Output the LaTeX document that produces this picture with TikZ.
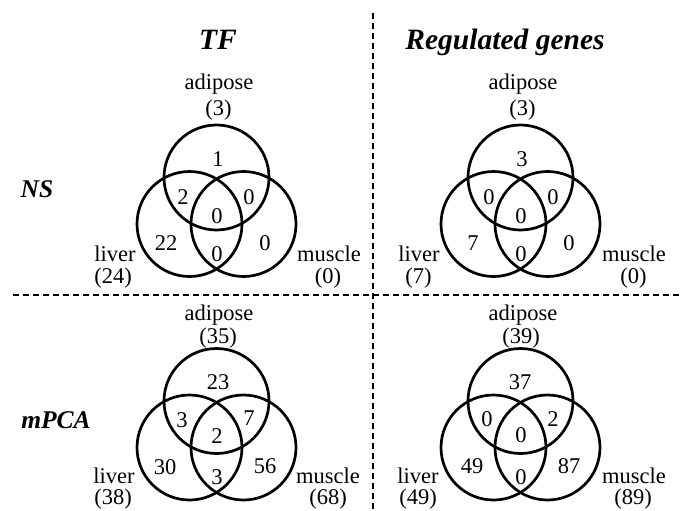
\documentclass[tikz,border=0pt]{standalone}
\usepackage{fontspec}
\setmainfont{Liberation Serif}
\begin{document}
\begin{tikzpicture}[x=1pt,y=-1pt,
  vc/.style={circle, draw, line width=2.7pt, minimum size=105pt, inner sep=0pt},
  num/.style={font=\fontsize{22.5}{26}\selectfont, inner sep=0pt},
  lbl/.style={font=\fontsize{22.5}{26}\selectfont, inner sep=0pt, anchor=base},
  ttl/.style={font=\fontsize{29.5}{34}\selectfont\bfseries\itshape, inner sep=0pt, anchor=base},
  rowl/.style={font=\fontsize{25.5}{30}\selectfont\bfseries\itshape, inner sep=0pt, anchor=base},
  sepline/.style={line width=1.1pt, dash pattern=on 6pt off 4pt}]
\useasboundingbox (0,0) rectangle (680,511);

% separators
\coordinate (vtop) at (373,13);
\coordinate (vbot) at (373,511);
\coordinate (hl) at (13,295);
\coordinate (hr) at (680,295);
\draw[sepline] (vtop) -- (vbot);
\draw[sepline] (hl) -- (hr);

% titles
\node[ttl] (tTF) at (218,49) {TF};
\node[ttl] (tRG) at (505,49) {Regulated genes};
\node[rowl] (rNS) at (37,197) {NS};
\node[rowl] (rMP) at (56,428) {mPCA};

% ---------- top-left ----------
\node[vc] (tlA) at (216.5,177.5) {};
\node[vc] (tlL) at (189.5,224) {};
\node[vc] (tlM) at (243.5,224) {};
\node[num] (tl1) at (218,159) {1};
\node[num] (tl2) at (183,197) {2};
\node[num] (tl3) at (249,197) {0};
\node[num] (tl4) at (217,216) {0};
\node[num] (tl5) at (166,243) {22};
\node[num] (tl6) at (265,243) {0};
\node[num] (tl7) at (217,254) {0};
\node[lbl] (tlat) at (219,89) {adipose};
\node[lbl] (tlan) at (218.5,115) {(3)};
\node[lbl] (tllt) at (115,261) {liver};
\node[lbl] (tlln) at (113,283) {(24)};
\node[lbl] (tlmt) at (329,261) {muscle};
\node[lbl] (tlmn) at (328,283) {(0)};

% ---------- top-right ----------
\node[vc] (trA) at (520.5,177.5) {};
\node[vc] (trL) at (493.5,224) {};
\node[vc] (trM) at (547.5,224) {};
\node[num] (tr1) at (522,159) {3};
\node[num] (tr2) at (489,197) {0};
\node[num] (tr3) at (553,197) {0};
\node[num] (tr4) at (521,216) {0};
\node[num] (tr5) at (473,243) {7};
\node[num] (tr6) at (569,243) {0};
\node[num] (tr7) at (521,254) {0};
\node[lbl] (trat) at (523,89) {adipose};
\node[lbl] (tran) at (522.5,115) {(3)};
\node[lbl] (trlt) at (419,261) {liver};
\node[lbl] (trln) at (418.5,283) {(7)};
\node[lbl] (trmt) at (634,261) {muscle};
\node[lbl] (trmn) at (633.5,283) {(0)};

% ---------- bottom-left ----------
\node[vc] (blA) at (216.5,401) {};
\node[vc] (blL) at (189.5,447.5) {};
\node[vc] (blM) at (243.5,447.5) {};
\node[num] (bl1) at (218,382) {23};
\node[num] (bl2) at (182,420) {3};
\node[num] (bl3) at (249,418) {7};
\node[num] (bl4) at (217,436) {2};
\node[num] (bl5) at (165,467) {30};
\node[num] (bl6) at (265,466) {56};
\node[num] (bl7) at (217,477) {3};
\node[lbl] (blat) at (219,320) {adipose};
\node[lbl] (blan) at (218,343) {(35)};
\node[lbl] (bllt) at (114,483) {liver};
\node[lbl] (blln) at (113,504) {(38)};
\node[lbl] (blmt) at (328,483) {muscle};
\node[lbl] (blmn) at (328,504) {(68)};

% ---------- bottom-right ----------
\node[vc] (brA) at (520.5,401) {};
\node[vc] (brL) at (493.5,447.5) {};
\node[vc] (brM) at (547.5,447.5) {};
\node[num] (br1) at (520,382) {37};
\node[num] (br2) at (487,419) {0};
\node[num] (br3) at (553,419) {2};
\node[num] (br4) at (521,435) {0};
\node[num] (br5) at (472,466) {49};
\node[num] (br6) at (569,466) {87};
\node[num] (br7) at (521,477) {0};
\node[lbl] (brat) at (523,320) {adipose};
\node[lbl] (bran) at (521,343) {(39)};
\node[lbl] (brlt) at (418,483) {liver};
\node[lbl] (brln) at (418,504) {(49)};
\node[lbl] (brmt) at (634,483) {muscle};
\node[lbl] (brmn) at (633,504) {(89)};
\end{tikzpicture}
\end{document}
